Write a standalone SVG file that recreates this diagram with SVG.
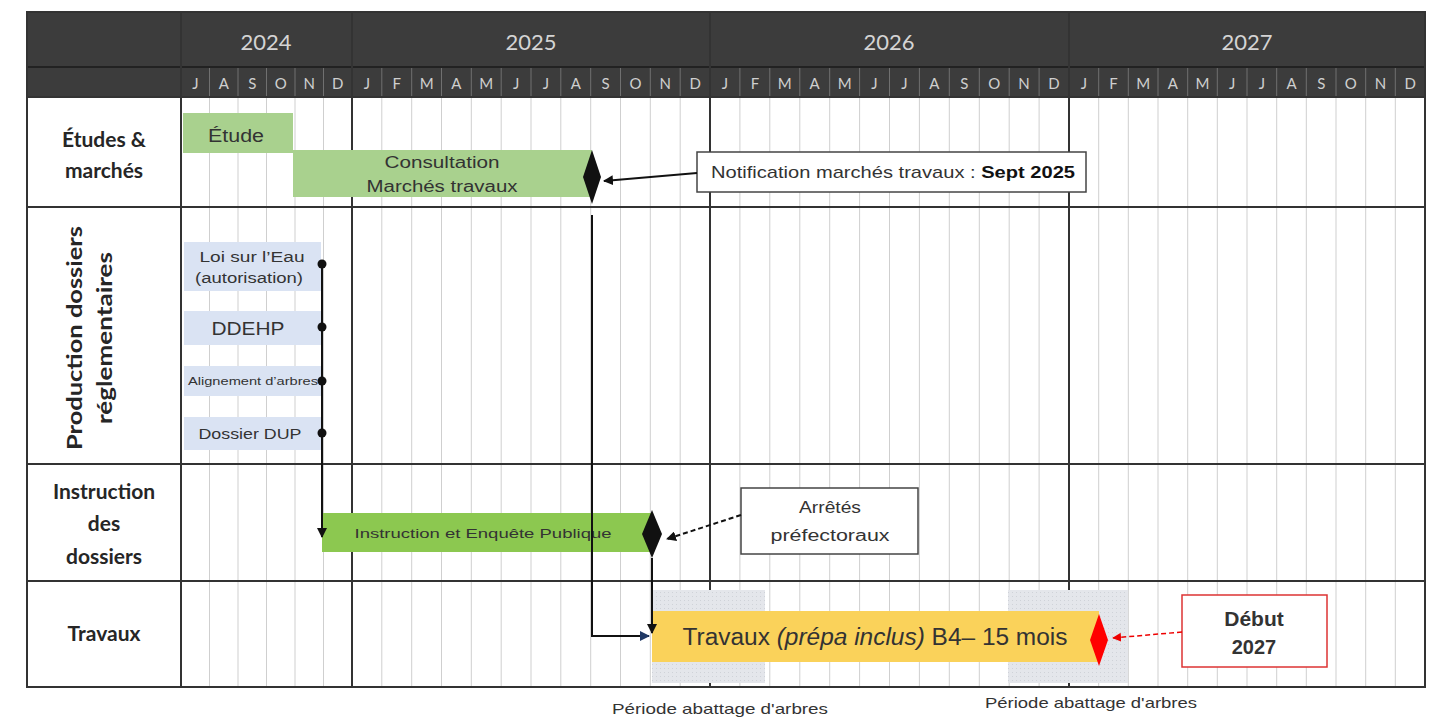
<svg xmlns="http://www.w3.org/2000/svg" width="1436" height="717" viewBox="0 0 1436 717">
<style>
.yr{font-family:"Lato","Open Sans",sans-serif;font-size:22px;fill:#d4d4d4;text-anchor:middle}
.mo{font-family:"Lato","Open Sans",sans-serif;font-size:15px;fill:#cfcfcf;text-anchor:middle}
.lbl{font-family:"Lato","Open Sans",sans-serif;font-size:21px;font-weight:bold;fill:#262626;text-anchor:middle}
.t{font-family:"Liberation Sans",Arial,sans-serif;fill:#333;text-anchor:middle}
.grid line{stroke:#cfcfcf;stroke-width:1}
.msep line{stroke:#707070;stroke-width:1}
.thick{stroke:#333;stroke-width:2;fill:none}
.conn{stroke:#111;stroke-width:2;fill:none}
</style>
<defs>
<marker id="ah" viewBox="0 0 10 10" refX="9" refY="5" markerWidth="5" markerHeight="5" orient="auto"><path d="M0,0 L10,5 L0,10 z" fill="#111"/></marker>
<marker id="ahb" viewBox="0 0 10 10" refX="9" refY="5" markerWidth="5" markerHeight="5" orient="auto"><path d="M0,0 L10,5 L0,10 z" fill="#1f3864"/></marker>
<marker id="ahr" viewBox="0 0 10 10" refX="9" refY="5" markerWidth="6" markerHeight="6" orient="auto"><path d="M0,0 L10,5 L0,10 z" fill="#e00"/></marker>
<pattern id="dots" width="4" height="4" patternUnits="userSpaceOnUse"><rect width="4" height="4" fill="#e4e6eb"/><rect width="1" height="1" fill="#cfd2d8"/></pattern>
</defs>

<g id="table">
<rect x="27" y="12" width="1398" height="675" fill="#fff"/>
<rect x="27" y="12" width="1398" height="85" fill="#3c3c3c"/>
<line x1="27" y1="67" x2="1425" y2="67" stroke="#222" stroke-width="2"/>
<g class="grid">
<line x1="209.5" y1="97" x2="209.5" y2="687"/><line x1="238" y1="97" x2="238" y2="687"/><line x1="266.5" y1="97" x2="266.5" y2="687"/><line x1="295" y1="97" x2="295" y2="687"/><line x1="323.5" y1="97" x2="323.5" y2="687"/>
<line x1="381.8" y1="97" x2="381.8" y2="687"/><line x1="411.7" y1="97" x2="411.7" y2="687"/><line x1="441.5" y1="97" x2="441.5" y2="687"/><line x1="471.3" y1="97" x2="471.3" y2="687"/><line x1="501.2" y1="97" x2="501.2" y2="687"/><line x1="531" y1="97" x2="531" y2="687"/><line x1="560.8" y1="97" x2="560.8" y2="687"/><line x1="590.7" y1="97" x2="590.7" y2="687"/><line x1="620.5" y1="97" x2="620.5" y2="687"/><line x1="650.3" y1="97" x2="650.3" y2="687"/><line x1="680.2" y1="97" x2="680.2" y2="687"/>
<line x1="739.9" y1="97" x2="739.9" y2="687"/><line x1="769.8" y1="97" x2="769.8" y2="687"/><line x1="799.8" y1="97" x2="799.8" y2="687"/><line x1="829.7" y1="97" x2="829.7" y2="687"/><line x1="859.6" y1="97" x2="859.6" y2="687"/><line x1="889.5" y1="97" x2="889.5" y2="687"/><line x1="919.4" y1="97" x2="919.4" y2="687"/><line x1="949.3" y1="97" x2="949.3" y2="687"/><line x1="979.3" y1="97" x2="979.3" y2="687"/><line x1="1009.2" y1="97" x2="1009.2" y2="687"/><line x1="1039.1" y1="97" x2="1039.1" y2="687"/>
<line x1="1098.7" y1="97" x2="1098.7" y2="687"/><line x1="1128.3" y1="97" x2="1128.3" y2="687"/><line x1="1158" y1="97" x2="1158" y2="687"/><line x1="1187.7" y1="97" x2="1187.7" y2="687"/><line x1="1217.3" y1="97" x2="1217.3" y2="687"/><line x1="1247" y1="97" x2="1247" y2="687"/><line x1="1276.7" y1="97" x2="1276.7" y2="687"/><line x1="1306.3" y1="97" x2="1306.3" y2="687"/><line x1="1336" y1="97" x2="1336" y2="687"/><line x1="1365.7" y1="97" x2="1365.7" y2="687"/><line x1="1395.3" y1="97" x2="1395.3" y2="687"/>
</g>
<g class="msep">
<line x1="209.5" y1="68" x2="209.5" y2="97"/><line x1="238" y1="68" x2="238" y2="97"/><line x1="266.5" y1="68" x2="266.5" y2="97"/><line x1="295" y1="68" x2="295" y2="97"/><line x1="323.5" y1="68" x2="323.5" y2="97"/>
<line x1="381.8" y1="68" x2="381.8" y2="97"/><line x1="411.7" y1="68" x2="411.7" y2="97"/><line x1="441.5" y1="68" x2="441.5" y2="97"/><line x1="471.3" y1="68" x2="471.3" y2="97"/><line x1="501.2" y1="68" x2="501.2" y2="97"/><line x1="531" y1="68" x2="531" y2="97"/><line x1="560.8" y1="68" x2="560.8" y2="97"/><line x1="590.7" y1="68" x2="590.7" y2="97"/><line x1="620.5" y1="68" x2="620.5" y2="97"/><line x1="650.3" y1="68" x2="650.3" y2="97"/><line x1="680.2" y1="68" x2="680.2" y2="97"/>
<line x1="739.9" y1="68" x2="739.9" y2="97"/><line x1="769.8" y1="68" x2="769.8" y2="97"/><line x1="799.8" y1="68" x2="799.8" y2="97"/><line x1="829.7" y1="68" x2="829.7" y2="97"/><line x1="859.6" y1="68" x2="859.6" y2="97"/><line x1="889.5" y1="68" x2="889.5" y2="97"/><line x1="919.4" y1="68" x2="919.4" y2="97"/><line x1="949.3" y1="68" x2="949.3" y2="97"/><line x1="979.3" y1="68" x2="979.3" y2="97"/><line x1="1009.2" y1="68" x2="1009.2" y2="97"/><line x1="1039.1" y1="68" x2="1039.1" y2="97"/>
<line x1="1098.7" y1="68" x2="1098.7" y2="97"/><line x1="1128.3" y1="68" x2="1128.3" y2="97"/><line x1="1158" y1="68" x2="1158" y2="97"/><line x1="1187.7" y1="68" x2="1187.7" y2="97"/><line x1="1217.3" y1="68" x2="1217.3" y2="97"/><line x1="1247" y1="68" x2="1247" y2="97"/><line x1="1276.7" y1="68" x2="1276.7" y2="97"/><line x1="1306.3" y1="68" x2="1306.3" y2="97"/><line x1="1336" y1="68" x2="1336" y2="97"/><line x1="1365.7" y1="68" x2="1365.7" y2="97"/><line x1="1395.3" y1="68" x2="1395.3" y2="97"/>
</g>
<text class="yr" x="266" y="50">2024</text>
<text class="yr" x="531" y="50">2025</text>
<text class="yr" x="889" y="50">2026</text>
<text class="yr" x="1247" y="50">2027</text>
<g class="mo">
<text x="195.3" y="89">J</text><text x="223.8" y="89">A</text><text x="252.3" y="89">S</text><text x="280.8" y="89">O</text><text x="309.3" y="89">N</text><text x="337.8" y="89">D</text>
<text x="366.9" y="89">J</text><text x="396.8" y="89">F</text><text x="426.6" y="89">M</text><text x="456.4" y="89">A</text><text x="486.3" y="89">M</text><text x="516.1" y="89">J</text><text x="545.9" y="89">J</text><text x="575.8" y="89">A</text><text x="605.6" y="89">S</text><text x="635.4" y="89">O</text><text x="665.3" y="89">N</text><text x="695.1" y="89">D</text>
<text x="725" y="89">J</text><text x="754.9" y="89">F</text><text x="784.8" y="89">M</text><text x="814.7" y="89">A</text><text x="844.6" y="89">M</text><text x="874.5" y="89">J</text><text x="904.5" y="89">J</text><text x="934.4" y="89">A</text><text x="964.3" y="89">S</text><text x="994.2" y="89">O</text><text x="1024.1" y="89">N</text><text x="1054" y="89">D</text>
<text x="1083.8" y="89">J</text><text x="1113.5" y="89">F</text><text x="1143.2" y="89">M</text><text x="1172.8" y="89">A</text><text x="1202.5" y="89">M</text><text x="1232.2" y="89">J</text><text x="1261.8" y="89">J</text><text x="1291.5" y="89">A</text><text x="1321.2" y="89">S</text><text x="1350.8" y="89">O</text><text x="1380.5" y="89">N</text><text x="1410.2" y="89">D</text>
</g>
<line class="thick" x1="27" y1="97" x2="1425" y2="97"/>
<line class="thick" x1="27" y1="207" x2="1425" y2="207"/>
<line class="thick" x1="27" y1="464" x2="1425" y2="464"/>
<line class="thick" x1="27" y1="581" x2="1425" y2="581"/>
<line class="thick" x1="181" y1="12" x2="181" y2="687"/>
<line class="thick" x1="352" y1="12" x2="352" y2="687"/>
<line class="thick" x1="710" y1="12" x2="710" y2="687"/>
<line class="thick" x1="1069" y1="12" x2="1069" y2="687"/>
<rect class="thick" x="27" y="12" width="1398" height="675"/>
</g>

<g id="row-labels">
<text class="lbl" x="104" y="147">Études &amp;</text>
<text class="lbl" x="104" y="178">marchés</text>
<text class="lbl" transform="translate(82,338) rotate(-90)" textLength="224" lengthAdjust="spacingAndGlyphs">Production dossiers</text>
<text class="lbl" transform="translate(112,338) rotate(-90)" textLength="172" lengthAdjust="spacingAndGlyphs">réglementaires</text>
<text class="lbl" x="104" y="499">Instruction</text>
<text class="lbl" x="104" y="531">des</text>
<text class="lbl" x="104" y="564">dossiers</text>
<text class="lbl" x="104" y="641">Travaux</text>
</g>

<g id="abattage-1">
<rect x="652" y="590" width="113" height="93" fill="url(#dots)"/>
<text class="t" x="720" y="714" font-size="15" fill="#222" textLength="216" lengthAdjust="spacingAndGlyphs">Période abattage d'arbres</text>
</g>
<g id="abattage-2">
<rect x="1008" y="590" width="120" height="93" fill="url(#dots)"/>
<text class="t" x="1091" y="708" font-size="15" fill="#222" textLength="212" lengthAdjust="spacingAndGlyphs">Période abattage d'arbres</text>
</g>

<g id="etude">
<rect x="183" y="113" width="110" height="40" fill="#a9d18e"/>
<text class="t" x="236" y="142" font-size="18" textLength="56" lengthAdjust="spacingAndGlyphs">Étude</text>
</g>
<g id="consultation">
<rect x="293" y="150" width="299" height="47" fill="#a9d18e"/>
<text class="t" x="442" y="168" font-size="16" textLength="115" lengthAdjust="spacingAndGlyphs">Consultation</text>
<text class="t" x="442" y="192" font-size="16" textLength="151" lengthAdjust="spacingAndGlyphs">Marchés travaux</text>
<path d="M592,150 L601,177 L592,204 L583,177 Z" fill="#111"/>
</g>
<g id="notification">
<rect x="697" y="152" width="389" height="40" fill="#fff" stroke="#444" stroke-width="1.5"/>
<text class="t" x="893" y="178" font-size="17" textLength="364" lengthAdjust="spacingAndGlyphs">Notification marchés travaux : <tspan font-weight="bold" fill="#111">Sept 2025</tspan></text>
</g>

<g id="loi-eau">
<rect x="184" y="242" width="137" height="49" fill="#dae3f3"/>
<text class="t" x="252" y="262" font-size="14" textLength="105" lengthAdjust="spacingAndGlyphs">Loi sur l’Eau</text>
<text class="t" x="249" y="283" font-size="14" textLength="108" lengthAdjust="spacingAndGlyphs">(autorisation)</text>
</g>
<g id="ddehp">
<rect x="184" y="311" width="137" height="34" fill="#dae3f3"/>
<text class="t" x="248" y="335" font-size="18" textLength="73" lengthAdjust="spacingAndGlyphs">DDEHP</text>
</g>
<g id="alignement">
<rect x="184" y="366" width="137" height="30" fill="#dae3f3"/>
<text class="t" x="253" y="385" font-size="10" textLength="130" lengthAdjust="spacingAndGlyphs">Alignement d’arbres</text>
</g>
<g id="dup">
<rect x="184" y="417" width="137" height="33" fill="#dae3f3"/>
<text class="t" x="250" y="439" font-size="15" textLength="103" lengthAdjust="spacingAndGlyphs">Dossier DUP</text>
</g>

<g id="instruction">
<rect x="322" y="513" width="330" height="39" fill="#8cc850"/>
<text class="t" x="483" y="538" font-size="13" fill="#2a2a2a" textLength="257" lengthAdjust="spacingAndGlyphs">Instruction et Enquête Publique</text>
<path d="M652,510 L662,534 L652,558 L642,534 Z" fill="#111"/>
</g>
<g id="arretes">
<rect x="741" y="488" width="177" height="66" fill="#fff" stroke="#444" stroke-width="1.5"/>
<text class="t" x="830" y="513" font-size="16" textLength="62" lengthAdjust="spacingAndGlyphs">Arrêtés</text>
<text class="t" x="830" y="541" font-size="16" textLength="119" lengthAdjust="spacingAndGlyphs">préfectoraux</text>
</g>

<g id="travaux">
<rect x="652" y="611" width="447" height="51" fill="#fad25a"/>
<text class="t" x="875" y="645" font-size="23" fill="#3a3a2a" textLength="385" lengthAdjust="spacingAndGlyphs">Travaux <tspan font-style="italic">(prépa inclus)</tspan> B4– 15 mois</text>
<path d="M1099,614 L1108,640 L1099,666 L1090,640 Z" fill="#f00"/>
</g>
<g id="debut">
<rect x="1182" y="595" width="145" height="72" fill="#fff" stroke="#d33" stroke-width="1.5"/>
<text class="t" x="1254" y="626" font-size="21" font-weight="bold" fill="#111">Début</text>
<text class="t" x="1254" y="654" font-size="20" font-weight="bold" fill="#111">2027</text>
</g>

<g id="connectors">
<line class="conn" x1="697" y1="173" x2="604" y2="181" stroke-width="1.5" marker-end="url(#ah)"/>
<path class="conn" d="M592,215 V636 H649" stroke="#111" marker-end="url(#ahb)"/>
<line class="conn" x1="322" y1="264" x2="322" y2="537" marker-end="url(#ah)"/>
<circle cx="322" cy="264" r="4.5" fill="#111"/>
<circle cx="322" cy="327" r="4.5" fill="#111"/>
<circle cx="322" cy="381" r="4.5" fill="#111"/>
<circle cx="322" cy="433" r="4.5" fill="#111"/>
<line class="conn" x1="741" y1="515" x2="667" y2="539" stroke-width="1.5" stroke-dasharray="5,3" marker-end="url(#ah)"/>
<line class="conn" x1="652" y1="558" x2="652" y2="633" marker-end="url(#ah)"/>
<line x1="1182" y1="632" x2="1113" y2="638" stroke="#e00" stroke-width="1.5" stroke-dasharray="5,3" marker-end="url(#ahr)"/>
</g>
</svg>
